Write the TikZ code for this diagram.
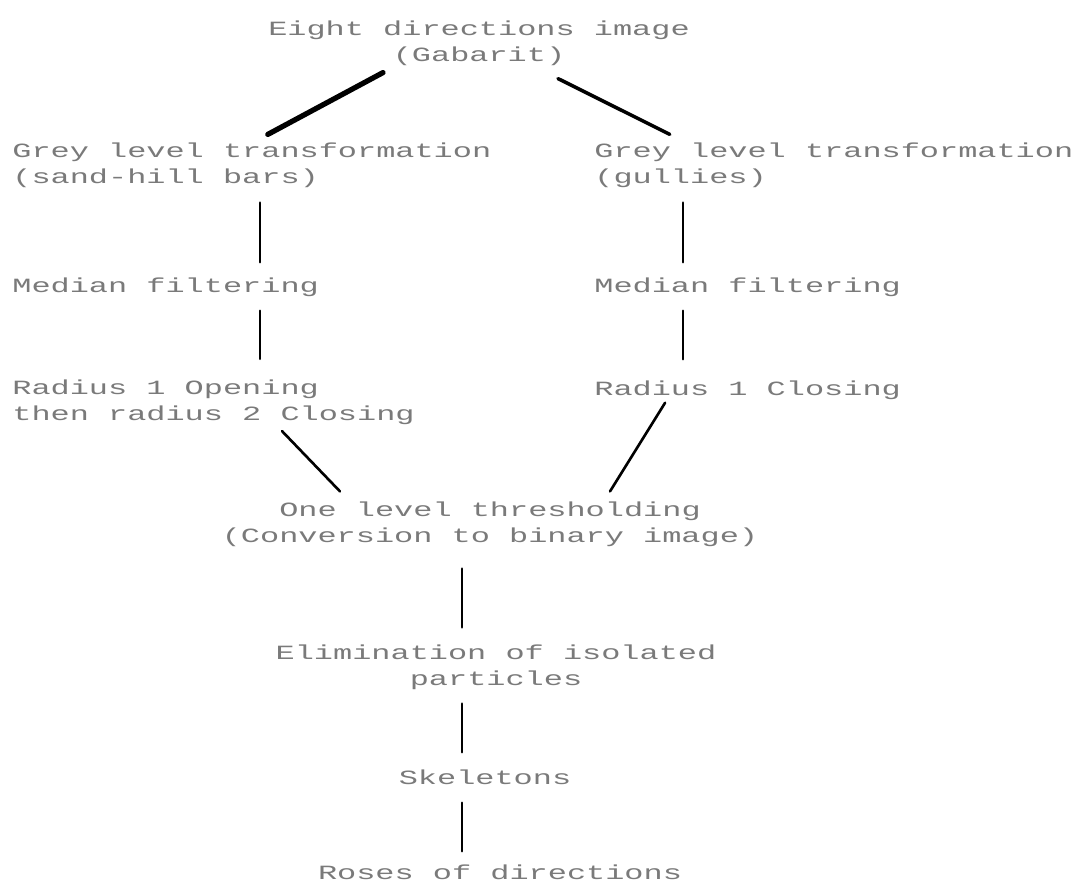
\documentclass[tikz,border=0pt]{standalone}
\usepackage{fontspec}
\newfontfamily\dotfont[FakeStretch=1.58]{Liberation Mono}
\usetikzlibrary{positioning}
\definecolor{inkgrey}{gray}{0.48}

\tikzset{
    steptext/.style={font=\dotfont\fontsize{11.5}{14.6}\selectfont, text=inkgrey, inner sep=0pt},
    leftblock/.style={steptext, anchor=west, align=left},
    midblock/.style={steptext, align=center},
    link/.style={line width=1.5pt, line cap=round},
    gaps/.style 2 args={shorten <=#1, shorten >=#2},
}

\begin{document}
\begin{tikzpicture}[x=0.02cm, y=-0.02cm]
    \useasboundingbox (0,0) rectangle (1080,882);
    % processing steps
    \node[midblock] (gabarit) at (479,43) {Eight directions image\\(Gabarit)};
    \node[leftblock] (greyL) at (12,165) {Grey level transformation\\(sand-hill bars)};
    \node[leftblock] (greyR) at (594,165) {Grey level transformation\\(gullies)};
    \node[leftblock] (medianL) at (12,287) {Median filtering};
    \node[leftblock] (medianR) at (594,287) {Median filtering};
    \node[leftblock] (openL) at (12,402.5) {Radius 1 Opening\\then radius 2 Closing};
    \node[leftblock] (closeR) at (594,390) {Radius 1 Closing};
    \node[midblock] (thresh) at (490,524) {One level thresholding\\(Conversion to binary image)};
    \node[midblock] (elim) at (496,667) {Elimination of isolated\\particles};
    \node[midblock] (skel) at (485,777) {Skeletons};
    \node[midblock] (roses) at (500,872) {Roses of directions};
    % columns of the vertical links
    \coordinate (colL) at (260,0);
    \coordinate (colR) at (683,0);
    \coordinate (colM) at (462,0);
    % links
    \draw[link, line width=3pt] ([shift={(-96,7)}]gabarit.south) -- ([shift={(16,-8)}]greyL.north);
    \draw[link, line width=2pt] ([shift={(79,13)}]gabarit.south) -- ([shift={(-164,-8)}]greyR.north);
    \draw[link, gaps={0.30cm}{0.30cm}] (greyL.south -| colL) -- (medianL.north -| colL);
    \draw[link, gaps={0.28cm}{0.42cm}] (medianL.south -| colL) -- (openL.north -| colL);
    \draw[link, gaps={0.30cm}{0.30cm}] (greyR.south -| colR) -- (medianR.north -| colR);
    \draw[link, gaps={0.28cm}{0.42cm}] (medianR.south -| colR) -- (closeR.north -| colR);
    \draw[link] ([shift={(68.5,6)}]openL.south) -- ([shift={(-150,-10)}]thresh.north);
    \draw[link] ([shift={(-82.5,3)}]closeR.south) -- ([shift={(120,-10)}]thresh.north);
    \draw[link, gaps={0.44cm}{0.34cm}] (thresh.south -| colM) -- (elim.north -| colM);
    \draw[link, gaps={0.28cm}{0.34cm}] (elim.south -| colM) -- (skel.north -| colM);
    \draw[link, gaps={0.36cm}{0.26cm}] (skel.south -| colM) -- (roses.north -| colM);
\end{tikzpicture}
\end{document}
